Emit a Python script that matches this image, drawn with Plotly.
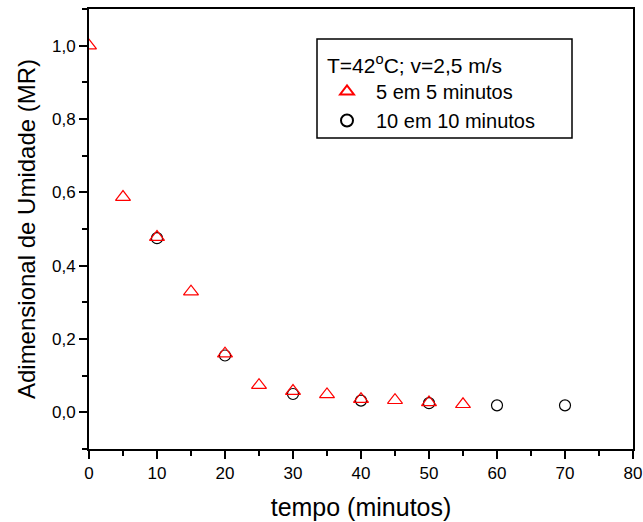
import plotly.graph_objects as go

# Drying data: dimensionless moisture ratio vs time
t_5min = [0, 5, 10, 15, 20, 25, 30, 35, 40, 45, 50, 55]
mr_5min = [1.0, 0.587, 0.478, 0.329, 0.160, 0.074, 0.058, 0.049, 0.036, 0.033, 0.027, 0.022]

t_10min = [10, 20, 30, 40, 50, 60, 70]
mr_10min = [0.475, 0.155, 0.050, 0.032, 0.025, 0.019, 0.019]

legend_heading = "T=42<sup>o</sup>C; v=2,5 m/s"

font_family = "Liberation Sans, Arial, sans-serif"

fig = go.Figure()
# circles first so the triangles are drawn on top
fig.add_trace(go.Scatter(
    x=t_10min, y=mr_10min, mode="markers", name="10 em 10 minutos",
    marker=dict(symbol="circle-open", size=11, color="#000000",
                line=dict(width=1.2, color="#000000")),
))
fig.add_trace(go.Scatter(
    x=t_5min, y=mr_5min, mode="markers", name="5 em 5 minutos",
    marker=dict(symbol="triangle-up-open", size=13, color="#ff0000",
                line=dict(width=1.2, color="#ff0000")),
))

axis_common = dict(
    showgrid=False, zeroline=False, automargin=False,
    showline=True, linecolor="black", linewidth=2, mirror=True,
    ticks="outside", tickcolor="black", tickwidth=2, ticklen=8,
    tickfont=dict(family=font_family, size=17, color="black"),
)

fig.update_xaxes(
    range=[0, 80], dtick=10, tick0=0,
    minor=dict(dtick=5, ticks="outside", ticklen=5, tickwidth=2, tickcolor="black"),
    title=dict(text="tempo (minutos)", font=dict(family=font_family, size=25, color="black"),
               standoff=16),
    **axis_common,
)
fig.update_yaxes(
    range=[-0.1, 1.1], dtick=0.2, tick0=0, tickformat=".1f",
    minor=dict(dtick=0.1, tick0=0, ticks="outside", ticklen=5, tickwidth=2, tickcolor="black"),
    title=dict(text="Adimensional de Umidade (MR)",
               font=dict(family=font_family, size=24, color="black"), standoff=10),
    **axis_common,
)

# page geometry helpers (pixels -> paper fractions)
W, H = 643, 522
ml, mr, mt, mb = 89, 10, 9, 73
pw, ph = W - ml - mr, H - mt - mb


def px_x(x):
    return (x - ml) / pw


def px_y(y):
    return (H - mb - y) / ph


# legend frame
fig.add_shape(type="rect", xref="paper", yref="paper",
              x0=px_x(317), x1=px_x(572), y0=px_y(138), y1=px_y(39),
              line=dict(color="black", width=1.5), fillcolor="rgba(0,0,0,0)")

# legend heading
fig.add_annotation(xref="paper", yref="paper", x=px_x(325), y=px_y(64),
                   xanchor="left", yanchor="middle", showarrow=False,
                   text=legend_heading,
                   font=dict(family=font_family, size=21, color="black"))

fig.update_layout(
    width=W, height=H,
    margin=dict(l=ml, r=mr, t=mt, b=mb),
    paper_bgcolor="white", plot_bgcolor="white",
    separators=",.",
    showlegend=True,
    legend=dict(
        x=px_x(318), y=px_y(72), xanchor="left", yanchor="top",
        borderwidth=0, bgcolor="rgba(0,0,0,0)",
        font=dict(family=font_family, size=20, color="black"),
        traceorder="reversed",
        itemsizing="constant",
        itemwidth=48,
    ),
)

fig.write_html("out.html")
